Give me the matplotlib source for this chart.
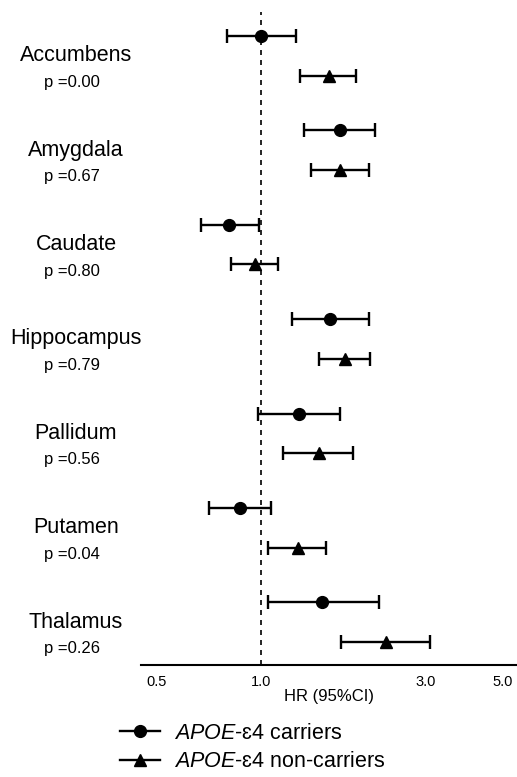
import numpy as np
import matplotlib
matplotlib.use('Agg')
import matplotlib.pyplot as plt
from matplotlib.lines import Line2D

plt.rcParams['font.family'] = ['Liberation Sans', 'DejaVu Sans']
plt.rcParams['mathtext.fontset'] = 'custom'
plt.rcParams['mathtext.it'] = 'Liberation Sans:italic'
plt.rcParams['mathtext.rm'] = 'Liberation Sans'

# data
regions = ['Accumbens', 'Amygdala', 'Caudate', 'Hippocampus', 'Pallidum', 'Putamen', 'Thalamus']
p_values = ['0.00', '0.67', '0.80', '0.79', '0.56', '0.04', '0.26']

carrier_hr = [1.00, 1.69, 0.81, 1.58, 1.29, 0.87, 1.50]
carrier_lo = [0.80, 1.33, 0.67, 1.23, 0.98, 0.71, 1.05]
carrier_hi = [1.26, 2.14, 0.99, 2.05, 1.69, 1.07, 2.20]

noncarrier_hr = [1.57, 1.69, 0.96, 1.75, 1.47, 1.28, 2.30]
noncarrier_lo = [1.30, 1.40, 0.82, 1.47, 1.16, 1.05, 1.70]
noncarrier_hi = [1.88, 2.05, 1.12, 2.07, 1.84, 1.54, 3.09]

xticks = [0.5, 1.0, 3.0, 5.0]

fig = plt.figure(figsize=(5.17, 7.77), dpi=100)
ax = fig.add_axes([0.2727, 0.1441, 0.7273, 0.8405])

y = np.arange(len(regions))
offset = 0.42

def draw(hr, lo, hi, ypos, marker):
    hr = np.array(hr); lo = np.array(lo); hi = np.array(hi)
    ax.errorbar(hr, ypos, xerr=[hr - lo, hi - hr], fmt=marker, color='black',
                markersize=8.5, elinewidth=1.7, capsize=5, capthick=1.7)

draw(carrier_hr, carrier_lo, carrier_hi, y, 'o')
draw(noncarrier_hr, noncarrier_lo, noncarrier_hi, y + offset, '^')

ax.axvline(1.0, color='black', linestyle=(0, (3, 3)), linewidth=1.2, zorder=0)

ax.set_xscale('log')
ax.set_xlim(0.45, 5.5)
ax.set_ylim(len(regions) - 1 + offset + 0.245, -0.255)
ax.set_xticks(xticks)
ax.set_xticklabels([f'{v:.1f}' for v in xticks], fontsize=10.5)
ax.xaxis.set_minor_locator(matplotlib.ticker.NullLocator())
ax.tick_params(axis='x', length=0, pad=7)
ax.set_yticks([])
for s in ['left', 'right', 'top']:
    ax.spines[s].set_visible(False)
ax.spines['bottom'].set_linewidth(1.5)
ax.set_xlabel('HR (95%CI)', fontsize=12, labelpad=0)

trans = matplotlib.transforms.blended_transform_factory(fig.transFigure, ax.transData)
for i, (name, p) in enumerate(zip(regions, p_values)):
    ax.text(0.147, i + 0.21, name, transform=trans, ha='center', va='center',
            fontsize=15.5, clip_on=False)
    ax.text(0.140, i + 0.49, 'p =' + p, transform=trans, ha='center', va='center',
            fontsize=12, clip_on=False)

handles = [
    Line2D([], [], color='black', marker='o', markersize=8.5, linewidth=1.7),
    Line2D([], [], color='black', marker='^', markersize=8.5, linewidth=1.7),
]
labels = [r'$\it{APOE}$-ɛ4 carriers', r'$\it{APOE}$-ɛ4 non-carriers']
fig.legend(handles, labels, loc='upper left', bbox_to_anchor=(0.232, 0.070),
           frameon=False, fontsize=15.5, handlelength=1.86, handletextpad=0.65,
           labelspacing=0.35, borderaxespad=0, borderpad=0)

fig.savefig('out.png', dpi=100)
